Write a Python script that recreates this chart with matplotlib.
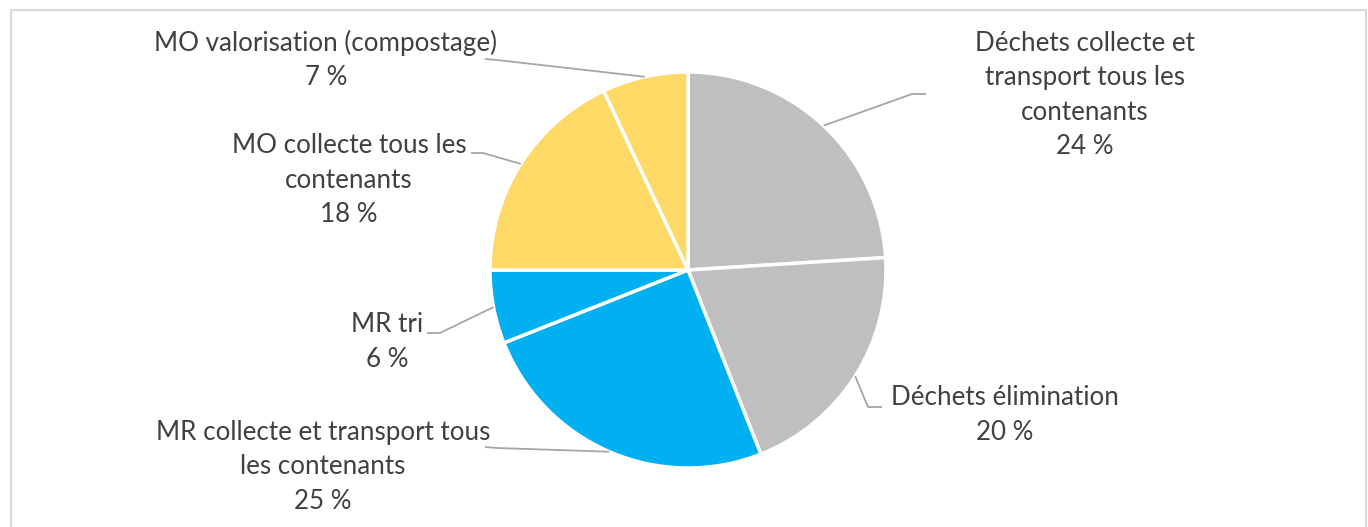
import numpy as np
import matplotlib
matplotlib.use("Agg")
import matplotlib.pyplot as plt

categories = [
    "Déchets collecte et\ntransport tous les\ncontenants",
    "Déchets élimination",
    "MR collecte et transport tous\nles contenants",
    "MR tri",
    "MO collecte tous les\ncontenants",
    "MO valorisation (compostage)",
]
values = [24, 20, 25, 6, 18, 7]
colors = ["#BFBFBF", "#BFBFBF", "#00B0F0", "#00B0F0", "#FFD966", "#FFD966"]

# layout (pixel coordinates, y from top): label centre, elbow point, line end near text
label_pos = [(1085, 95), (1005, 415), (323, 467), (387, 342), (349, 180), (326, 60)]
elbows = [(912, 94), (868, 407), (497, 448), (440, 333), (483, 153), (497, 60)]
line_ends = [(926, 94), (882, 407), (485, 447), (427, 333), (471, 153), (485, 59)]

W, H = 1368, 527
plt.rcParams['font.family'] = ['Lato', 'DejaVu Sans']
fig = plt.figure(figsize=(W / 100, H / 100), dpi=100)
ax = fig.add_axes([0, 0, 1, 1])

cx, cy, R = 688, H - 270, 198
wedges, _ = ax.pie(values, colors=colors, startangle=90, counterclock=False,
                   center=(cx, cy), radius=R,
                   wedgeprops=dict(edgecolor="white", linewidth=2.5))
ax.set_xlim(0, W)
ax.set_ylim(0, H)
ax.set_aspect("equal")
ax.axis("off")

fy = lambda y: H - y
line_col = "#A6A6A6"
text_col = "#404040"
for w, cat, v, lp, el, le in zip(wedges, categories, values, label_pos, elbows, line_ends):
    mid = np.deg2rad((w.theta1 + w.theta2) / 2)
    tx, ty = cx + R * np.cos(mid), cy + R * np.sin(mid)
    ax.plot([tx, el[0], le[0]], [ty, fy(el[1]), fy(le[1])], color=line_col, lw=1.3,
            solid_capstyle="butt", zorder=1)
    ax.text(lp[0], fy(lp[1]), f"{cat}\n{v} %", ha="center", va="center",
            fontsize=18.7, color=text_col, linespacing=1.48)

# chart border
ax.plot([11, 11, 1366, 1366], [-5, fy(10), fy(10), -5], color="#D9D9D9", lw=1.5,
        clip_on=False)

fig.savefig("out.png", dpi=100, facecolor="white")
